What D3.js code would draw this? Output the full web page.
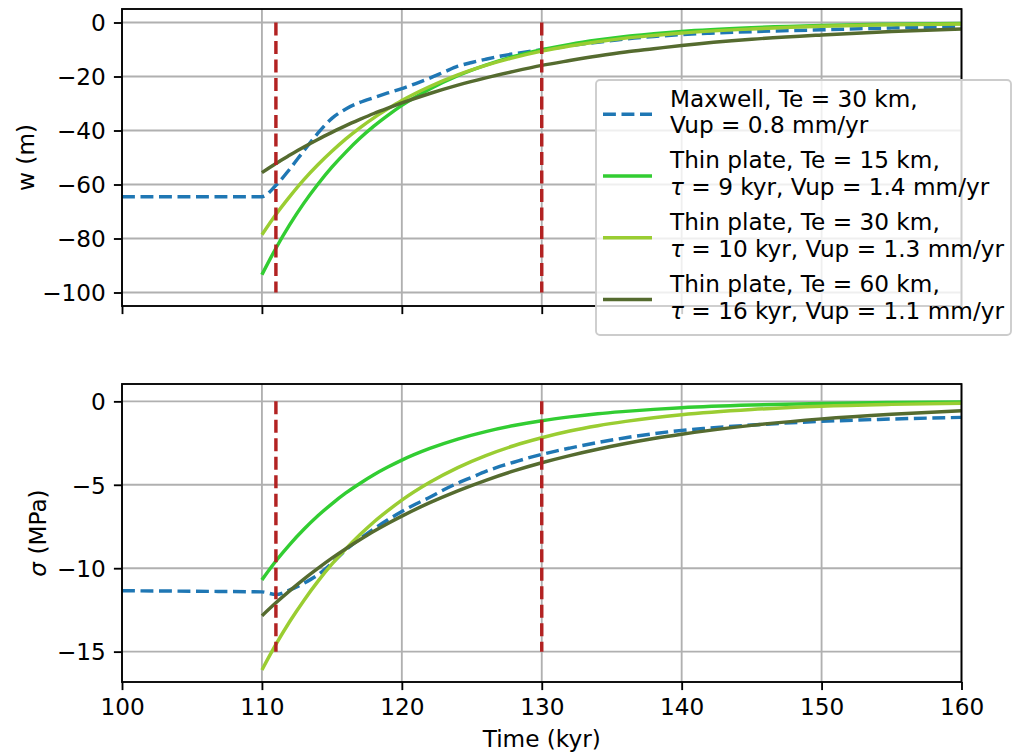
<!DOCTYPE html>
<html><head><meta charset="utf-8">
<script src="https://cdn.jsdelivr.net/npm/d3@7"></script>
<style>
body{margin:0;background:#fff}
svg{display:block}
text{font-family:"DejaVu Sans",sans-serif;fill:#000}
</style>
</head><body>
<svg id="chart" width="1012" height="754"></svg>
<script>
// ---------- data ----------
const timeMaxwell = [100, 105, 110, 111, 112, 113, 114, 115, 116, 117, 118, 119, 120, 121, 122, 123, 124, 125, 126, 127, 128, 129, 130, 131, 132, 133, 134, 135, 136, 138, 140, 142, 145, 150, 155, 160];
const wMaxwell = [-64.5, -64.5, -64.5, -60.3, -54.2, -47.5, -41.0, -35.5, -32.0, -29.6, -27.8, -26.1, -24.5, -22.6, -20.6, -18.4, -16.2, -14.8, -13.6, -12.5, -11.6, -10.8, -10.1, -9.4, -8.6, -7.9, -7.3, -6.7, -6.1, -5.2, -4.5, -4.0, -3.4, -2.7, -2.0, -1.5];
const sMaxwell = [-11.35, -11.38, -11.42, -11.58, -11.3, -10.9, -10.4, -9.7, -8.9, -8.25, -7.65, -7.1, -6.6, -6.15, -5.75, -5.3, -4.9, -4.55, -4.2, -3.9, -3.65, -3.4, -3.18, -2.98, -2.8, -2.63, -2.47, -2.32, -2.18, -1.94, -1.74, -1.6, -1.42, -1.2, -1.06, -0.96];

const timePlate = [110, 111, 112, 113, 114, 115, 116, 117, 118, 119, 120, 122, 124, 126, 128, 130, 132, 134, 136, 138, 140, 145, 150, 155, 160];
const wTe15 = [-93.4, -83.6, -74.8, -66.9, -59.9, -53.6, -48.0, -42.9, -38.4, -34.4, -30.7, -24.6, -19.7, -15.8, -12.6, -10.1, -8.1, -6.5, -5.2, -4.2, -3.3, -1.9, -1.1, -0.63, -0.36];
const wTe30 = [-78.6, -71.1, -64.4, -58.2, -52.7, -47.7, -43.1, -39.0, -35.3, -32.0, -28.9, -23.7, -19.4, -15.9, -13.0, -10.6, -8.7, -7.1, -5.8, -4.8, -3.9, -2.4, -1.4, -0.87, -0.53];
const wTe60 = [-55.6, -52.2, -49.1, -46.1, -43.3, -40.7, -38.2, -35.9, -33.7, -31.7, -29.8, -26.3, -23.2, -20.5, -18.1, -15.9, -14.1, -12.4, -10.9, -9.7, -8.5, -6.2, -4.6, -3.3, -2.4];
const sTe15 = [-10.7, -9.57, -8.57, -7.67, -6.86, -6.14, -5.49, -4.92, -4.40, -3.94, -3.52, -2.82, -2.26, -1.81, -1.45, -1.16, -0.93, -0.74, -0.60, -0.48, -0.38, -0.22, -0.13, -0.07, -0.04];
const sTe30 = [-16.1, -14.57, -13.18, -11.93, -10.79, -9.76, -8.84, -8.00, -7.23, -6.55, -5.92, -4.85, -3.97, -3.25, -2.66, -2.18, -1.78, -1.46, -1.20, -0.98, -0.80, -0.49, -0.29, -0.18, -0.11];
const sTe60 = [-12.85, -12.07, -11.34, -10.65, -10.01, -9.40, -8.83, -8.30, -7.79, -7.32, -6.88, -6.07, -5.36, -4.73, -4.17, -3.68, -3.25, -2.87, -2.53, -2.23, -1.97, -1.44, -1.05, -0.77, -0.56];

const eventTimes = [111, 130];
const wEventSpan = [0, -100];
const sEventSpan = [0, -15];

const xTicks = [100, 110, 120, 130, 140, 150, 160];
const wTicks = [-100, -80, -60, -40, -20, 0];
const sTicks = [-15, -10, -5, 0];
const xDomain = [100, 160];
const wDomain = [-105, 5];
const sDomain = [-16.82, 1.04];

const legendLabels = [
  ["Maxwell, Te = 30 km,", "Vup = 0.8 mm/yr"],
  ["Thin plate, Te = 15 km,", "τ = 9 kyr, Vup = 1.4 mm/yr"],
  ["Thin plate, Te = 30 km,", "τ = 10 kyr, Vup = 1.3 mm/yr"],
  ["Thin plate, Te = 60 km,", "τ = 16 kyr, Vup = 1.1 mm/yr"]
];

// ---------- styles ----------
const DASH = "12.9,5.6";
const seriesStyle = [
  {color: "#1f77b4", dash: DASH},
  {color: "#32cd32", dash: null},
  {color: "#9acd32", dash: null},
  {color: "#556b2f", dash: null}
];
const FS = 23.2, LW = 3.45, GRIDW = 1.86, TICK = 8.1;
const left = 122, right = 961.5;

const svg = d3.select("#chart");
const x = d3.scaleLinear().domain(xDomain).range([left, right]);

const minus = v => (v < 0 ? "\u2212" + Math.abs(v) : String(v));

function panel(top, bottom, yDomain, yTicks, series, evSpan, showXLabels) {
  const y = d3.scaleLinear().domain(yDomain).range([bottom, top]);
  const g = svg.append("g");
  const clipId = "clip" + Math.round(top);
  svg.append("clipPath").attr("id", clipId).append("rect")
    .attr("x", left).attr("y", top).attr("width", right - left).attr("height", bottom - top);

  // grid
  const grid = g.append("g").attr("stroke", "#b0b0b0").attr("stroke-width", GRIDW);
  grid.selectAll("line.gx").data(xTicks).join("line")
    .attr("x1", d => x(d)).attr("x2", d => x(d)).attr("y1", top).attr("y2", bottom);
  grid.selectAll("line.gy").data(yTicks).join("line")
    .attr("y1", d => y(d)).attr("y2", d => y(d)).attr("x1", left).attr("x2", right);

  // curves
  const line = d3.line().x(d => x(d[0])).y(d => y(d[1])).curve(d3.curveMonotoneX);
  const cg = g.append("g").attr("clip-path", `url(#${clipId})`);
  series.forEach((s, i) => {
    const pts = s.t.map((t, k) => [t, s.v[k]]);
    cg.append("path").attr("d", line(pts))
      .attr("fill", "none").attr("stroke", seriesStyle[i].color)
      .attr("stroke-width", LW).attr("stroke-dasharray", seriesStyle[i].dash);
  });
  // event lines
  cg.selectAll("line.ev").data(eventTimes).join("line")
    .attr("x1", d => x(d)).attr("x2", d => x(d))
    .attr("y1", y(evSpan[0])).attr("y2", y(evSpan[1]))
    .attr("stroke", "#b22222").attr("stroke-width", LW).attr("stroke-dasharray", DASH);

  // axes
  const ax = g.append("g").attr("transform", `translate(0,${bottom})`)
    .call(d3.axisBottom(x).tickValues(xTicks).tickSize(TICK).tickPadding(TICK)
      .tickFormat(showXLabels ? d => String(d) : () => ""));
  const ay = g.append("g").attr("transform", `translate(${left},0)`)
    .call(d3.axisLeft(y).tickValues(yTicks).tickSize(TICK).tickPadding(TICK).tickFormat(minus));
  [ax, ay].forEach(a => {
    a.select(".domain").remove();
    a.selectAll(".tick line").attr("stroke", "#000").attr("stroke-width", GRIDW);
    a.selectAll(".tick text").attr("font-size", FS).attr("font-family", "DejaVu Sans").attr("fill", "#000");
  });
  ay.selectAll(".tick text").attr("dy", "0.36em");

  // spines
  g.append("rect").attr("x", left).attr("y", top).attr("width", right - left).attr("height", bottom - top)
    .attr("fill", "none").attr("stroke", "#000").attr("stroke-width", GRIDW);
  return y;
}

panel(9, 306, wDomain, wTicks, [
  {t: timeMaxwell, v: wMaxwell}, {t: timePlate, v: wTe15}, {t: timePlate, v: wTe30}, {t: timePlate, v: wTe60}
], wEventSpan, false);

panel(384, 682, sDomain, sTicks, [
  {t: timeMaxwell, v: sMaxwell}, {t: timePlate, v: sTe15}, {t: timePlate, v: sTe30}, {t: timePlate, v: sTe60}
], sEventSpan, true);

// axis labels
svg.append("text").attr("transform", "translate(25,157.5) rotate(-90)")
  .attr("text-anchor", "middle").attr("dominant-baseline", "central").attr("font-size", FS).text("w (m)");
const sl = svg.append("text").attr("transform", "translate(37,533) rotate(-90)")
  .attr("text-anchor", "middle").attr("dominant-baseline", "central").attr("font-size", FS);
sl.append("tspan").attr("font-style", "italic").text("σ");
sl.append("tspan").text(" (MPa)");
svg.append("text").attr("x", (left + right) / 2).attr("y", 747)
  .attr("text-anchor", "middle").attr("font-size", FS).text("Time (kyr)");

// legend
const lg = svg.append("g");
lg.append("rect").attr("x", 596).attr("y", 80).attr("width", 415).attr("height", 255).attr("rx", 4)
  .attr("fill", "#fff").attr("fill-opacity", 0.8).attr("stroke", "#cccccc").attr("stroke-width", GRIDW);
legendLabels.forEach((lab, i) => {
  const y0 = 106.7 + i * 61.7;
  lg.append("line").attr("x1", 603).attr("x2", 652).attr("y1", y0 + 7.6).attr("y2", y0 + 7.6)
    .attr("stroke", seriesStyle[i].color).attr("stroke-width", LW)
    .attr("stroke-dasharray", seriesStyle[i].dash);
  lab.forEach((txt, j) => {
    const t = lg.append("text").attr("x", 670).attr("y", y0 + j * 26.7).attr("font-size", FS);
    if (txt.startsWith("τ")) {
      t.append("tspan").attr("font-style", "italic").text("τ");
      t.append("tspan").text(txt.slice(1));
    } else {
      t.text(txt);
    }
  });
});
</script>
</body></html>
